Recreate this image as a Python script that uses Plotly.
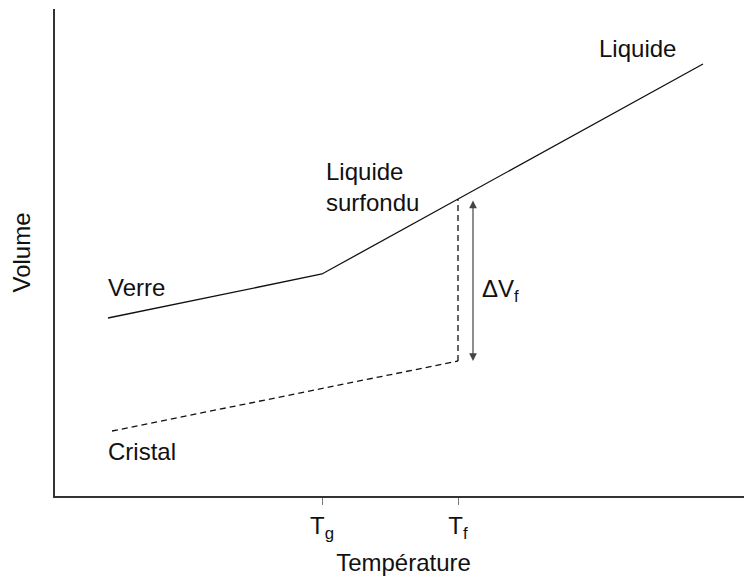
import plotly.graph_objects as go

# Data (arbitrary units: T = temperature, V = volume)
T_glass_liquid = [53, 267, 648]
V_glass_liquid = [178, 222, 432]
T_crystal = [57, 403]
V_crystal = [65, 135]
T_fusion_drop = [403, 403]
V_fusion_drop = [135, 297]
T_g = 267
T_f = 403
tick_vals = [T_g, T_f]
tick_text = ["T<sub>g</sub>", "T<sub>f</sub>"]
arrow_T = 418
arrow_V = [297, 135]

FONT = "Liberation Sans, Arial, sans-serif"
FS = 24

fig = go.Figure()
fig.add_trace(go.Scatter(x=T_glass_liquid, y=V_glass_liquid, mode="lines",
                         line=dict(color="#111", width=1.3), hoverinfo="skip"))
fig.add_trace(go.Scatter(x=T_crystal, y=V_crystal, mode="lines",
                         line=dict(color="#111", width=1.3, dash="6px,4px"), hoverinfo="skip"))
fig.add_trace(go.Scatter(x=T_fusion_drop, y=V_fusion_drop, mode="lines",
                         line=dict(color="#111", width=1.3, dash="6px,4px"), hoverinfo="skip"))

# double-headed arrow for ΔVf
fig.add_annotation(x=arrow_T, y=arrow_V[1], ax=arrow_T, ay=arrow_V[0],
                   xref="x", yref="y", axref="x", ayref="y", text="",
                   showarrow=True, arrowhead=2, startarrowhead=2, arrowside="end+start",
                   arrowwidth=1.2, arrowsize=1.3, arrowcolor="#444")

labels = [
    (582, 448, "Liquide", "center"),
    (269, 309, "Liquide<br>surfondu", "left"),
    (51, 209, "Verre", "left"),
    (51, 45, "Cristal", "left"),
    (425, 206, "ΔV<sub>f</sub>", "left"),
]
for x, y, t, al in labels:
    fig.add_annotation(x=x, y=y, text=t, showarrow=False, xanchor=al, align=al,
                       yanchor="middle", font=dict(family=FONT, size=FS, color="#111"))

fig.update_layout(
    width=744, height=568,
    margin=dict(l=47, r=0, t=1, b=80),
    plot_bgcolor="white", paper_bgcolor="white",
    showlegend=False,
    font=dict(family=FONT, size=FS, color="#111"),
    xaxis=dict(range=[0, 697], showgrid=False, zeroline=False,
               showline=True, linecolor="#333", linewidth=2,
               tickmode="array", tickvals=tick_vals, ticktext=tick_text,
               ticks="outside", ticklen=7, tickcolor="#777", tickwidth=1,
               tickfont=dict(family=FONT, size=FS, color="#111"),
               title=dict(text="Température", standoff=13,
                          font=dict(family=FONT, size=FS, color="#111"))),
    yaxis=dict(range=[0, 487], showgrid=False, zeroline=False,
               showline=True, linecolor="#333", linewidth=2,
               showticklabels=False, ticks="",
               title=dict(text="Volume", standoff=18,
                          font=dict(family=FONT, size=FS, color="#111"))),
)

fig.write_html("out.html")
